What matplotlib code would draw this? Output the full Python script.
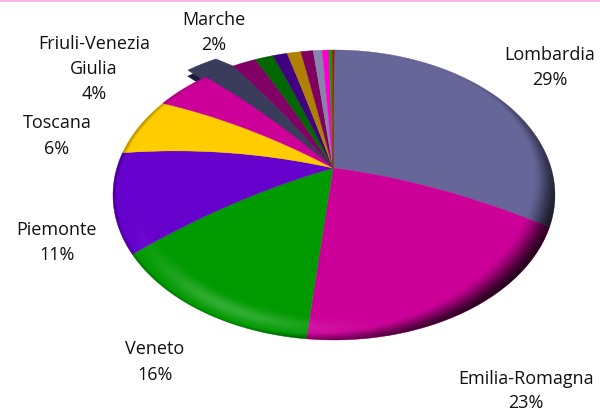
import numpy as np
import matplotlib
matplotlib.use("Agg")
import matplotlib.pyplot as plt
from matplotlib.patches import Ellipse

regions = ["Lombardia", "Emilia-Romagna", "Veneto", "Piemonte", "Toscana",
           "Friuli-Venezia\nGiulia", "Marche", "Altra 1", "Altra 2", "Altra 3",
           "Altra 4", "Altra 5", "Altra 6", "Altra 7", "Altra 8", "Altra 9"]
values = [28.6, 23.4, 16.3, 11.4, 6.2, 4.2, 2.34, 1.76, 1.35, 1.05, 1.0, 0.9,
          0.65, 0.5, 0.26, 0.1]
colors = ["#666699", "#CC0099", "#009900", "#6600CC", "#FFCC00", "#CC0099",
          "#3A3C5C", "#800066", "#006600", "#400080", "#B08000", "#800060",
          "#8585AD", "#FF00CC", "#00A000", "#CC0000"]
label_centres = {"Lombardia": (550, 67), "Emilia-Romagna": (526, 391), "Veneto": (155, 362),
                 "Piemonte": (57, 242), "Toscana": (57, 136),
                 "Friuli-Venezia\nGiulia": (94, 69), "Marche": (214, 32)}
exploded = "Marche"

CX, CY, RX, RY = 334, 195, 221, 145
AX, AY = 333, 168
EXPLODE = (-17, -7)
SAG = 8

fig = plt.figure(figsize=(6, 4.12), dpi=100)
ax = fig.add_axes([0, 0, 1, 1])
ax.set_xlim(0, 600)
ax.set_ylim(412, 0)
ax.axis("off")
ax.axhspan(0, 1.6, color="#F4B6E4", lw=0)


def rim(f, offset=(0, 0)):
    t = np.asarray(f) * 2 * np.pi / 100
    return CX + RX * np.sin(t) + offset[0], CY - RY * np.cos(t) + offset[1]


def ray(f):
    """Curved side from the apex to the rim at cumulative share f."""
    s = np.linspace(0, 1, 25)
    ex, ey = rim(f)
    bulge = 4 * SAG * s * (1 - s) * abs(np.sin(f * 2 * np.pi / 100))
    return AX + s * (ex - AX), AY + s * (ey - AY) - bulge


def wedge(f0, f1):
    ax0, ay0 = ray(f0)
    ax1, ay1 = ray(f1)
    fs = np.linspace(f0, f1, max(int((f1 - f0) * 6) + 3, 3))
    rx, ry = rim(fs)
    return np.r_[ax0, rx, ax1[::-1]], np.r_[ay0, ry, ay1[::-1]]


ends = np.cumsum(values)
starts = ends - np.array(values)

# exploded slice sits underneath the others, its arc pulled outwards
i = regions.index(exploded)
fs = np.linspace(starts[i], ends[i], 20)
ox, oy = rim(fs, EXPLODE)
rx_e, ry_e = ray(ends[i])
ax.fill(np.r_[AX, ox[:8] - 1, AX], np.r_[AY, oy[:8] + 6, AY], color="#1C1C36", lw=0, zorder=1)
ax.fill(np.r_[ox, rx_e[::-1]], np.r_[oy, ry_e[::-1]], facecolor=colors[i],
        edgecolor=colors[i], lw=0.5, zorder=1.5)

for s, e, c, r in zip(starts, ends, colors, regions):
    if r == exploded:
        continue
    x, y = wedge(s, e)
    ax.fill(x, y, facecolor=c, edgecolor=c, lw=0.3, zorder=2)

# bevel shading on the disc
xx, yy = np.meshgrid(np.arange(100, 570, 1.0), np.arange(40, 350, 1.0))
u = (xx - CX) / RX
v = (yy - CY) / RY
r = np.hypot(u, v)
ang = np.arctan2(v, u)


def smooth(a, b, z):
    t = np.clip((z - a) / (b - a), 0, 1)
    return t * t * (3 - 2 * t)


dirf = np.clip(np.cos(ang - np.radians(35)), 0, 1) ** 2
lo = 0.98 - 0.14 * dirf
dark = smooth(lo, 1.005, r) * (0.3 + 0.55 * dirf) * (smooth(-0.9, -0.5, v) * 0.9 + 0.1)
side = np.exp(-((ang - np.radians(122)) / 0.5) ** 2)
high = np.exp(-((r - 0.91) / 0.05) ** 2) * side * 0.2
alpha = dark + high - dark * high
rgba = np.zeros(xx.shape + (4,))
rgba[..., :3] = (high / np.maximum(alpha, 1e-6))[..., None]
rgba[..., 3] = alpha
im = ax.imshow(rgba, extent=(100, 570, 350, 40), zorder=3, aspect="auto", interpolation="bilinear")
im.set_clip_path(Ellipse((CX, CY), 2 * RX, 2 * RY, transform=ax.transData))
ax.set_xlim(0, 600)
ax.set_ylim(412, 0)

for name, (lx, ly) in label_centres.items():
    val = values[regions.index(name)]
    ax.text(lx, ly, f"{name}\n{val:.0f}%", ha="center", va="center", fontsize=13,
            family="Open Sans", color="#111111", linespacing=1.5, zorder=5)

fig.savefig("out.png", dpi=100)
